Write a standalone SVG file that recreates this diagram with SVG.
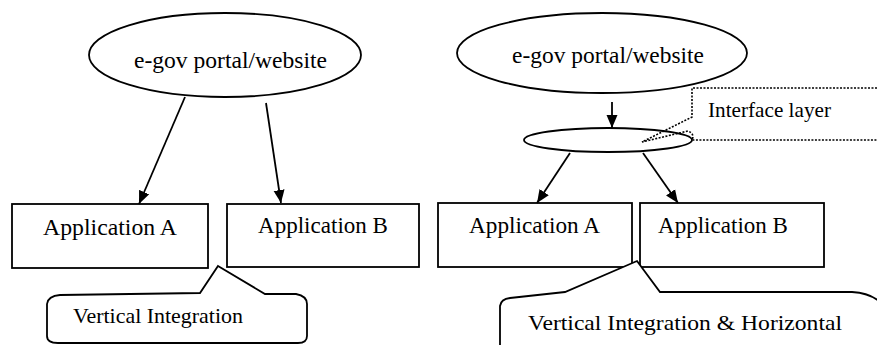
<svg xmlns="http://www.w3.org/2000/svg" width="877" height="345" viewBox="0 0 877 345">
  <style>
    .shape { fill: #fff; stroke: #000; stroke-width: 1.8; }
    .conn { fill: none; stroke: #000; stroke-width: 1.8; }
    .dot { fill: none; stroke: #000; stroke-width: 1.6; stroke-dasharray: 2 1.5; }
    .lbl { font-family: "Liberation Serif", "Times New Roman", serif; font-size: 23px; fill: #000; }
    .note { font-family: "Liberation Serif", "Times New Roman", serif; font-size: 21px; fill: #000; }
  </style>
  <defs>
    <marker id="arrow" markerUnits="userSpaceOnUse" markerWidth="14" markerHeight="12" refX="13" refY="6" orient="auto">
      <path d="M0,0.5 L13,6 L0,11.5 Z" fill="#000"/>
    </marker>
  </defs>

  <!-- Left: vertical integration -->
  <g id="portal-left">
    <ellipse class="shape" cx="225" cy="55" rx="136" ry="42"/>
    <text class="lbl" x="134" y="68" textLength="193" lengthAdjust="spacingAndGlyphs">e-gov portal/website</text>
  </g>
  <g id="app-a-left">
    <rect class="shape" x="12" y="204" width="196" height="64"/>
    <text class="lbl" x="43" y="235" textLength="134" lengthAdjust="spacingAndGlyphs">Application A</text>
  </g>
  <g id="app-b-left">
    <rect class="shape" x="227" y="204" width="192" height="63"/>
    <text class="lbl" x="258" y="233" textLength="130" lengthAdjust="spacingAndGlyphs">Application B</text>
  </g>
  <g id="callout-vertical">
    <path class="shape" d="M218,266 L265,294 L296,294 Q307,296 307,304 L307,336 Q307,343 298,343 L58,343 Q47,343 47,336 L47,304 Q48,296 60,295 L200,293 Z"/>
    <text class="note" x="73" y="323" textLength="170" lengthAdjust="spacingAndGlyphs">Vertical Integration</text>
  </g>

  <!-- Right: vertical and horizontal integration -->
  <g id="portal-right">
    <ellipse class="shape" cx="602" cy="53" rx="145" ry="40"/>
    <text class="lbl" x="512" y="63" textLength="192" lengthAdjust="spacingAndGlyphs">e-gov portal/website</text>
  </g>
  <g id="interface-layer">
    <ellipse class="shape" cx="608" cy="140" rx="84" ry="12"/>
  </g>
  <g id="callout-interface">
    <path class="dot" d="M877,88 L692,88 L692,117 L642,142 L688,131 Q695,134 692,140 L877,140"/>
    <text class="note" x="708" y="117" textLength="123" lengthAdjust="spacingAndGlyphs">Interface layer</text>
  </g>
  <g id="app-a-right">
    <rect class="shape" x="438" y="203" width="194" height="64"/>
    <text class="lbl" x="469" y="233" textLength="131" lengthAdjust="spacingAndGlyphs">Application A</text>
  </g>
  <g id="app-b-right">
    <rect class="shape" x="640" y="203" width="184" height="64"/>
    <text class="lbl" x="658" y="233" textLength="130" lengthAdjust="spacingAndGlyphs">Application B</text>
  </g>
  <g id="callout-horizontal">
    <path class="shape" d="M637,261 L660,292 L852,292 Q870,293 880,302 L880,350 L500,350 L500,306 Q501,299 510,298 L565,292 Z"/>
    <text class="note" x="528" y="330" textLength="314" lengthAdjust="spacingAndGlyphs">Vertical Integration &amp; Horizontal</text>
  </g>

  <g id="connectors">
    <line class="conn" x1="185" y1="97" x2="139" y2="204" marker-end="url(#arrow)"/>
    <line class="conn" x1="266" y1="103" x2="281" y2="203" marker-end="url(#arrow)"/>
    <line class="conn" x1="612" y1="102" x2="612" y2="128" marker-end="url(#arrow)"/>
    <line class="conn" x1="570" y1="153" x2="537" y2="203" marker-end="url(#arrow)"/>
    <line class="conn" x1="643" y1="153" x2="678" y2="203" marker-end="url(#arrow)"/>
  </g>
</svg>
